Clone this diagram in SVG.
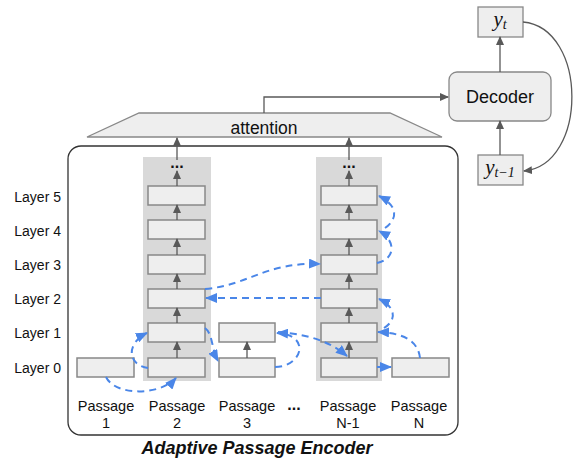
<svg xmlns="http://www.w3.org/2000/svg" width="575" height="459" viewBox="0 0 575 459">
<defs>
<marker id="ga" markerUnits="userSpaceOnUse" markerWidth="9" markerHeight="8" refX="8" refY="4" orient="auto"><path d="M0,0 L9,4 L0,8 z" fill="#595959"/></marker>
<marker id="ba" markerUnits="userSpaceOnUse" markerWidth="12" markerHeight="10" refX="11" refY="5" orient="auto"><path d="M0,0 L12,5 L0,10 z" fill="#4a86e8"/></marker>
<style>
.box{fill:#eeeeee;stroke:#888;stroke-width:1.5}
.col{fill:#d9d9d9}
.g{stroke:#595959;stroke-width:1.3;fill:none;marker-end:url(#ga)}
.b{stroke:#4a86e8;stroke-width:2;fill:none;stroke-dasharray:7 5;marker-end:url(#ba)}
.t{font-family:"Liberation Sans",Arial,sans-serif;fill:#111}
.m{font-family:"Liberation Serif","Times New Roman",serif;font-style:italic;fill:#111}
</style>
</defs>
<rect x="68" y="146" width="390" height="289" rx="13" fill="#fff" stroke="#333" stroke-width="1.3"/>
<g id="attention">
<path d="M87,137 L139,113 L390,113 L442,137 z" fill="#eeeeee" stroke="#888" stroke-width="1.3"/>
<text class="t" x="264" y="134" font-size="17.5" text-anchor="middle">attention</text>
</g>
<g id="column2">
<rect class="col" x="143" y="157" width="68" height="224"/>
<text class="t" x="177" y="168" font-size="16" font-weight="bold" text-anchor="middle">...</text>
<rect class="box" x="148" y="186" width="57" height="19"/>
<rect class="box" x="148" y="220" width="57" height="19"/>
<rect class="box" x="148" y="255" width="57" height="19"/>
<rect class="box" x="148" y="289" width="57" height="19"/>
<rect class="box" x="148" y="323" width="57" height="19"/>
<rect class="box" x="148" y="358" width="57" height="19"/>
</g>
<g id="columnN1">
<rect class="col" x="316" y="157" width="66" height="224"/>
<text class="t" x="349" y="168" font-size="16" font-weight="bold" text-anchor="middle">...</text>
<rect class="box" x="321" y="186" width="56" height="19"/>
<rect class="box" x="321" y="220" width="56" height="19"/>
<rect class="box" x="321" y="255" width="56" height="19"/>
<rect class="box" x="321" y="289" width="56" height="19"/>
<rect class="box" x="321" y="323" width="56" height="19"/>
<rect class="box" x="321" y="358" width="56" height="19"/>
</g>
<g id="passage1"><rect class="box" x="77" y="358" width="57" height="19"/></g>
<g id="passage3">
<rect class="box" x="219" y="323" width="56" height="19"/>
<rect class="box" x="219" y="358" width="56" height="19"/>
</g>
<g id="passageN"><rect class="box" x="392" y="358" width="57" height="19"/></g>
<g id="decoder">
<rect x="449" y="72" width="102" height="49" rx="8" fill="#eeeeee" stroke="#888" stroke-width="1.3"/>
<text class="t" x="500" y="103" font-size="18" text-anchor="middle">Decoder</text>
</g>
<g id="yt">
<rect x="478" y="7" width="45" height="30" fill="#eeeeee" stroke="#888" stroke-width="1.3"/>
<text class="m" x="500" y="26" font-size="21" text-anchor="middle">y<tspan font-size="14" dy="3">t</tspan></text>
</g>
<g id="yt1">
<rect x="478" y="155" width="45" height="30" fill="#eeeeee" stroke="#888" stroke-width="1.3"/>
<text class="m" x="500" y="174" font-size="21" text-anchor="middle">y<tspan font-size="14" dy="3">t−1</tspan></text>
</g>
<g id="labels" class="t" font-size="14">
<text x="61" y="202" text-anchor="end">Layer 5</text>
<text x="61" y="236" text-anchor="end">Layer 4</text>
<text x="61" y="270" text-anchor="end">Layer 3</text>
<text x="61" y="304" text-anchor="end">Layer 2</text>
<text x="61" y="338" text-anchor="end">Layer 1</text>
<text x="61" y="373" text-anchor="end">Layer 0</text>
</g>
<g id="passages" class="t" font-size="14.5" text-anchor="middle">
<text x="106" y="411">Passage</text><text x="106" y="428">1</text>
<text x="177" y="411">Passage</text><text x="177" y="428">2</text>
<text x="247" y="411">Passage</text><text x="247" y="428">3</text>
<text x="294" y="410" font-size="16" font-weight="bold">...</text>
<text x="348" y="411">Passage</text><text x="348" y="428">N-1</text>
<text x="419" y="411">Passage</text><text x="419" y="428">N</text>
</g>
<text class="t" x="257" y="454" font-size="18" font-weight="bold" font-style="italic" text-anchor="middle">Adaptive Passage Encoder</text>
<g id="connectors">
<path class="g" d="M177,160 L177,138"/>
<path class="g" d="M177,186 L177,171"/>
<path class="g" d="M177,220 L177,205"/>
<path class="g" d="M177,255 L177,239"/>
<path class="g" d="M177,289 L177,274"/>
<path class="g" d="M177,323 L177,308"/>
<path class="g" d="M177,358 L177,342"/>
<path class="g" d="M349,160 L349,138"/>
<path class="g" d="M349,186 L349,171"/>
<path class="g" d="M349,220 L349,205"/>
<path class="g" d="M349,255 L349,239"/>
<path class="g" d="M349,289 L349,274"/>
<path class="g" d="M349,323 L349,308"/>
<path class="g" d="M349,358 L349,342"/>
<path class="g" d="M247,358 L247,342"/>
<path class="g" d="M264,113 L264,97 L448,97"/>
<path class="g" d="M500,72 L500,37"/>
<path class="g" d="M500,155 L500,121"/>
<path class="g" d="M523,22 C588,28 588,165 524,171"/>
<path class="b" d="M106,377 C115,396 160,396 176,378"/>
<path class="b" d="M148,368 C127,365 126,343 147,333"/>
<path class="b" d="M205,328 C213,334 211,348 218,361"/>
<path class="b" d="M275,367 C302,367 312,335 277,333"/>
<path class="b" d="M278,332 C300,334 326,338 347,356"/>
<path class="b" d="M377,367 L391,367"/>
<path class="b" d="M420,358 C418,340 402,333 378,332"/>
<path class="b" d="M384,328 C397,320 396,307 379,299"/>
<path class="b" d="M321,298 L206,298"/>
<path class="b" d="M205,289 C250,285 265,262 320,264"/>
<path class="b" d="M377,263 C396,259 396,240 379,231"/>
<path class="b" d="M385,228 C399,218 397,205 379,196"/>
</g>
</svg>
